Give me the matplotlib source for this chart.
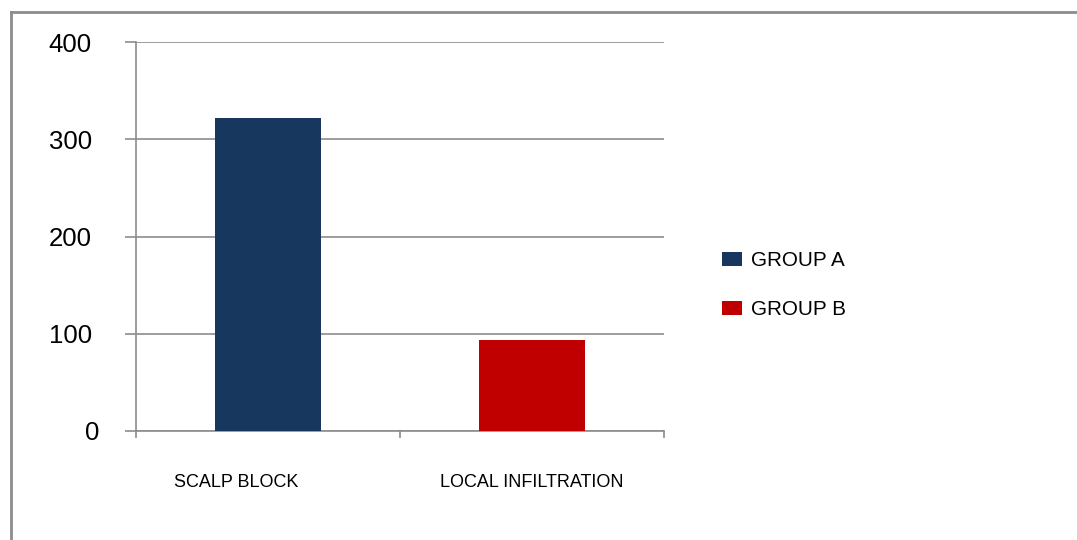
import matplotlib.pyplot as plt
from matplotlib.lines import Line2D
from matplotlib.transforms import ScaledTranslation

categories = ["SCALP BLOCK", "LOCAL INFILTRATION"]
series = ["GROUP A", "GROUP B"]
values = [322, 94]
colors = ["#17375E", "#C00000"]
yticks = [0, 100, 200, 300, 400]

plt.rcParams['font.family'] = ['Liberation Sans', 'DejaVu Sans']
grid_col = "#8c8c8c"

fig = plt.figure(figsize=(10.77, 5.40), dpi=100)
ax = fig.add_axes([136/1077, 109/540, 528/1077, 389/540])

x = list(range(len(categories)))
for i in x:
    ax.bar(x[i], values[i], width=0.4, color=colors[i], label=series[i], zorder=3)

ax.set_xlim(-0.5, len(categories) - 0.5)
ax.set_ylim(0, 400)
ax.set_yticks(yticks)
ax.set_yticklabels([str(v) for v in yticks], fontsize=18.5)
ax.set_xticks(x)
ax.set_xticklabels(categories, fontsize=13)
ax.set_xticks([-0.5, 0.5, 1.5], minor=True)

ax.tick_params(axis='x', which='major', length=0, pad=31, colors='black')
ax.tick_params(axis='x', which='minor', length=5, width=1.2, color=grid_col)
ax.tick_params(axis='y', length=8, width=1.2, color=grid_col, pad=23.8)

# small placement quirks of the original labels
lab0 = ax.get_yticklabels()[0]
lab0.set_transform(lab0.get_transform() + ScaledTranslation(0.08, 0, fig.dpi_scale_trans))
cat0 = ax.get_xticklabels()[0]
cat0.set_transform(cat0.get_transform() + ScaledTranslation(-0.32, 0, fig.dpi_scale_trans))

ax.yaxis.grid(True, color=grid_col, linewidth=1.2, zorder=0)
ax.set_axisbelow(True)
for s in ['top', 'right']:
    ax.spines[s].set_visible(False)
for s in ['left', 'bottom']:
    ax.spines[s].set_color(grid_col)
    ax.spines[s].set_linewidth(1.2)

leg = ax.legend(loc='center left', bbox_to_anchor=(722/1077, 1 - 285/540),
                bbox_transform=fig.transFigure, frameon=False, fontsize=14.9,
                handlelength=0.96, handleheight=0.67, handletextpad=0.43,
                labelspacing=1.45, borderpad=0, borderaxespad=0)

# outer frame (left and top edges visible in the crop)
fig.add_artist(Line2D([10.5/1077, 10.5/1077], [0, 1 - 11.5/540], transform=fig.transFigure,
                      color=grid_col, linewidth=2))
fig.add_artist(Line2D([10.5/1077, 1], [1 - 11.5/540, 1 - 11.5/540], transform=fig.transFigure,
                      color=grid_col, linewidth=2))

fig.savefig("out.png", dpi=100)
